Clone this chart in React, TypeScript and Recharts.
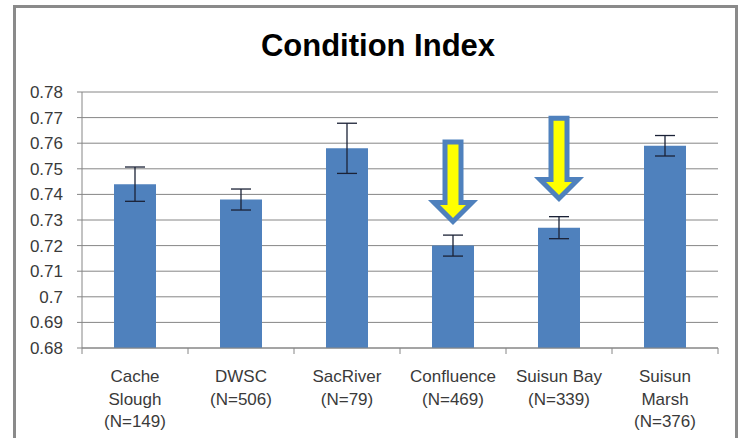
import { BarChart, Bar, XAxis, YAxis, CartesianGrid, ErrorBar, ReferenceLine } from 'recharts';

// sites along the x axis and the label lines printed under each one
const sites = ['Cache Slough', 'DWSC', 'SacRiver', 'Confluence', 'Suisun Bay', 'Suisun Marsh'];
const siteLabels = [
  ['Cache', 'Slough', '(N=149)'],
  ['DWSC', '(N=506)'],
  ['SacRiver', '(N=79)'],
  ['Confluence', '(N=469)'],
  ['Suisun Bay', '(N=339)'],
  ['Suisun', 'Marsh', '(N=376)'],
];

// mean condition index and error (+/-)
const conditionIndex = [0.744, 0.738, 0.758, 0.72, 0.727, 0.759];
const indexError = [0.0067, 0.0041, 0.0098, 0.0041, 0.0043, 0.004];

const yTicks = [0.68, 0.69, 0.7, 0.71, 0.72, 0.73, 0.74, 0.75, 0.76, 0.77, 0.78];

// highlight arrows: top of shaft and tip, in index units
const arrowSites = ['Confluence', 'Suisun Bay'];
const arrowTop = [0.7605, 0.7697];
const arrowTip = [0.7294, 0.7384];

const data = sites.map((site, i) => ({
  site,
  value: conditionIndex[i],
  err: indexError[i],
}));

const AXIS_GRAY = '#868686';
const TEXT = '#3a3a3a';
const FONT = '"Liberation Sans", Arial, sans-serif';

const SiteTick = (props: any) => {
  const { x, y, payload, index } = props;
  const lines = siteLabels[index] ?? [String(payload.value)];
  const half = payload?.offset || 53;
  return (
    <g>
      <line x1={x - half} y1={y} x2={x - half} y2={y + 6} stroke={AXIS_GRAY} />
      {index === sites.length - 1 && (
        <line x1={x + half} y1={y} x2={x + half} y2={y + 6} stroke={AXIS_GRAY} />
      )}
      <text x={x} y={y + 34} textAnchor="middle" fill={TEXT} fontSize={17} fontFamily={FONT}>
        {lines.map((l, i) => (
          <tspan key={i} x={x} dy={i === 0 ? 0 : 22.5}>
            {l}
          </tspan>
        ))}
      </text>
    </g>
  );
};

const DownArrow = (props: any) => {
  const { x1, y1, y2 } = props;
  const shaft = 8;
  const head = 19;
  const pts = [
    [x1 - shaft, y1],
    [x1 + shaft, y1],
    [x1 + shaft, y2 - head],
    [x1 + head, y2 - head],
    [x1, y2],
    [x1 - head, y2 - head],
    [x1 - shaft, y2 - head],
  ];
  return (
    <polygon
      points={pts.map((p) => p.join(',')).join(' ')}
      fill="#FFFF00"
      stroke="#4F81BD"
      strokeWidth={5}
      strokeLinejoin="miter"
    />
  );
};

export default function App() {
  return (
    <div style={{ position: 'fixed', left: 0, top: 0, width: 742, height: 438, overflow: 'hidden', background: '#fff' }}>
      <div
        style={{
          position: 'absolute',
          left: 13,
          top: 5,
          width: 725,
          height: 470,
          border: '3px solid #8a8a8a',
          boxSizing: 'border-box',
        }}
      />
      <div
        style={{
          position: 'absolute',
          left: 0,
          top: 30,
          width: 756,
          textAlign: 'center',
          fontFamily: FONT,
          fontWeight: 'bold',
          fontSize: 31,
          lineHeight: '31px',
          color: '#000',
        }}
      >
        Condition Index
      </div>
      <div style={{ position: 'absolute', left: 0, top: 0 }}>
        <BarChart width={742} height={438} data={data} margin={{ top: 92, right: 24, left: 0, bottom: 0 }}>
          <CartesianGrid vertical={false} stroke={AXIS_GRAY} />
          <XAxis
            dataKey="site"
            interval={0}
            height={90}
            tickLine={false}
            tickSize={0}
            tickMargin={0}
            axisLine={{ stroke: AXIS_GRAY }}
            tick={SiteTick}
          />
          <YAxis
            domain={[0.68, 0.78]}
            ticks={yTicks}
            interval={0}
            width={82}
            allowDataOverflow
            tickSize={5}
            tickMargin={14}
            axisLine={{ stroke: AXIS_GRAY }}
            tickLine={{ stroke: AXIS_GRAY }}
            tick={{ fill: TEXT, fontSize: 17, fontFamily: FONT }}
            tickFormatter={(v: number) => String(+v.toFixed(2))}
          />
          <Bar dataKey="value" fill="#4F81BD" barSize={42} isAnimationActive={false}>
            <ErrorBar dataKey="err" width={10} stroke="#1b2236" strokeWidth={1.3} isAnimationActive={false} />
          </Bar>
          {arrowSites.map((s, i) => (
            <ReferenceLine
              key={s}
              segment={[
                { x: s, y: arrowTop[i] },
                { x: s, y: arrowTip[i] },
              ]}
              shape={DownArrow}
            />
          ))}
        </BarChart>
      </div>
    </div>
  );
}
